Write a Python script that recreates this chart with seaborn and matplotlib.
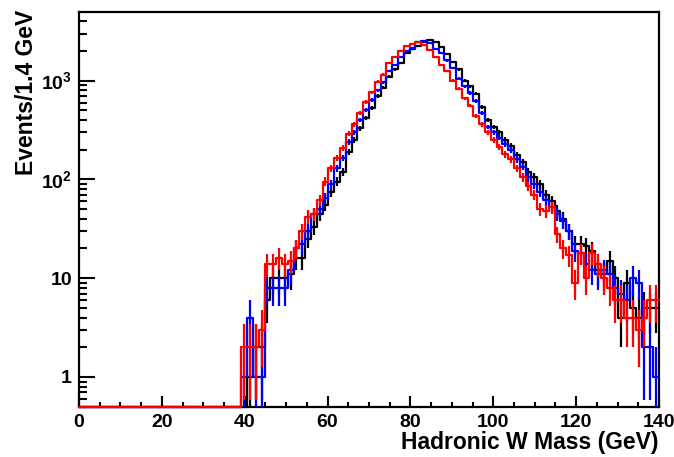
import numpy as np
import pandas as pd
import matplotlib
matplotlib.use("Agg")
import matplotlib.pyplot as plt
from matplotlib.ticker import FixedLocator, FixedFormatter, MultipleLocator, NullFormatter
import seaborn as sns

# binning: 100 bins of 1.4 GeV from 0 to 140
bin_width = 1.4
mass_min, mass_max = 0.0, 140.0

# counts per bin (first 28 bins, 0-39.2 GeV, are empty)
black_counts = [0] * 28 + [
    0, 1, 2, 2,
    6, 10, 10, 10, 11, 16, 16, 25, 33, 45, 55,
    75, 95, 120, 190, 250, 330, 420, 530, 700, 850, 1100, 1300, 1500, 1900, 2100, 2250, 2450,
    2600, 2450, 2200, 1850, 1550, 1300, 1000, 880, 740, 540, 400, 340, 300, 250, 220, 175, 150, 120, 105, 90,
    70, 60, 48, 40, 30, 22, 22, 21, 19, 12, 11, 15, 10, 4, 9, 5, 4, 5, 5, 5,
]
blue_counts = [0] * 28 + [
    1, 4, 1, 1,
    8, 8, 8, 8, 12, 20, 22, 30, 45, 50, 65,
    90, 130, 165, 240, 300, 400, 500, 640, 800, 960, 1250, 1450, 1750, 2000, 2150, 2450, 2500,
    2400, 2100, 1900, 1600, 1350, 1050, 880, 750, 620, 470, 340, 300, 265, 230, 200, 160, 135, 105, 90, 75,
    62, 53, 45, 38, 30, 19, 18, 14, 12, 11, 12, 11, 8, 7, 6, 10, 9, 2, 2, 1,
]
red_counts = [0] * 28 + [
    2, 2, 2, 3,
    14, 14, 16, 14, 15, 20, 30, 42, 45, 62, 95,
    130, 165, 210, 290, 360, 470, 610, 760, 980, 1150, 1500, 1750, 2000, 2250, 2350, 2450, 2300,
    2050, 1750, 1450, 1250, 1000, 830, 660, 560, 440, 360, 300, 250, 215, 180, 160, 130, 105, 85, 70, 50,
    48, 52, 28, 20, 17, 9, 18, 10, 18, 14, 10, 8, 6, 6, 4, 4, 3, 4, 6, 6,
]

series = [("black", black_counts), ("#0000ff", blue_counts), ("#ff0000", red_counts)]

x_ticks = [0, 20, 40, 60, 80, 100, 120, 140]
y_ticks = [1, 10, 100, 1000]
y_tick_labels = ["1", "10", r"$\mathbf{10^{2}}$", r"$\mathbf{10^{3}}$"]

sns.set_style("ticks")
plt.rcParams["font.family"] = ["Liberation Sans", "DejaVu Sans"]
plt.rcParams["font.weight"] = "bold"
plt.rcParams["mathtext.fontset"] = "custom"
plt.rcParams["mathtext.rm"] = "Liberation Sans:bold"
plt.rcParams["mathtext.bf"] = "Liberation Sans:bold"
for key in ["text.color", "axes.labelcolor", "xtick.color", "ytick.color", "axes.edgecolor"]:
    plt.rcParams[key] = "black"

n_bins = int(round((mass_max - mass_min) / bin_width))
centers = mass_min + bin_width * (np.arange(n_bins) + 0.5)
y_lo, y_hi = 0.5, 4950

fig = plt.figure(figsize=(6.74, 4.57), dpi=100)
ax = fig.add_axes([0.1172, 0.110, 0.8605, 0.8637])

for i, (color, counts) in enumerate(series):
    counts = np.asarray(counts, dtype=float)
    # empty bins sit on the lower frame, like ROOT draws them
    df = pd.DataFrame({"mass": centers, "n": np.clip(counts, y_lo, None)})
    sns.histplot(data=df, x="mass", weights="n", binwidth=bin_width,
                 binrange=(mass_min, mass_max), element="step", fill=False,
                 color=color, linewidth=1.6, ax=ax)
    for ln in ax.lines[-1:]:
        ln.set_clip_on(False)
        ln.set_zorder(3 + i)
    filled = counts > 0
    ax.errorbar(centers[filled], counts[filled], yerr=np.sqrt(counts[filled]),
                fmt="none", ecolor=color, elinewidth=1.6, capsize=0, zorder=3 + i)

ax.set_yscale("log")
ax.set_xlim(mass_min, mass_max)
ax.set_ylim(y_lo, y_hi)

ax.xaxis.set_major_locator(FixedLocator(x_ticks))
ax.xaxis.set_minor_locator(MultipleLocator(5))
ax.yaxis.set_major_locator(FixedLocator(y_ticks))
ax.yaxis.set_major_formatter(FixedFormatter(y_tick_labels))
minor_y = [m * 10.0 ** e for e in range(-1, 4) for m in range(2, 10)]
ax.yaxis.set_minor_locator(FixedLocator(minor_y))
ax.yaxis.set_minor_formatter(NullFormatter())

ax.tick_params(which="both", direction="in", width=1.5, labelsize=14, pad=5)
ax.tick_params(axis="x", which="major", length=8)
ax.tick_params(axis="x", which="minor", length=3.8)
ax.tick_params(axis="y", which="major", length=11.5)
ax.tick_params(axis="y", which="minor", length=5.4)
for lab in ax.get_xticklabels() + ax.get_yticklabels():
    lab.set_fontweight("bold")
for sp in ax.spines.values():
    sp.set_linewidth(1.6)
    sp.set_visible(True)

ax.set_xlabel("Hadronic W Mass (GeV)", fontsize=16.5, fontweight="bold", loc="right")
ax.set_ylabel("Events/1.4 GeV", fontsize=16.5, fontweight="bold", loc="top")
ax.xaxis.set_label_coords(1.0, -0.062)
ax.yaxis.set_label_coords(-0.071, 1.005)

fig.savefig("out.png", dpi=100, facecolor="white")
